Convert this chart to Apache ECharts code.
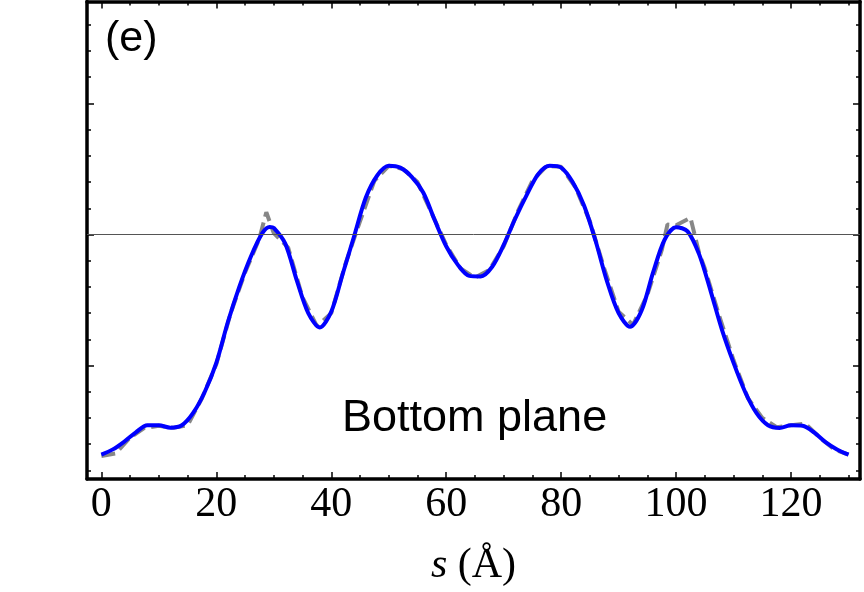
<!DOCTYPE html>
<html>
<head>
<meta charset="utf-8">
<script src="https://cdn.jsdelivr.net/npm/echarts@6/dist/echarts.min.js"></script>
<style>
  html, body { margin: 0; padding: 0; background: #fff; }
  #chart { width: 864px; height: 592px; }
</style>
</head>
<body>
<div id="chart"></div>
<script>
// fitted profile (blue, solid)
const fitS = [0, 2, 4, 6, 8, 10, 12, 14, 16, 18, 20, 22, 24, 26, 28, 29.3, 30, 32, 34, 36, 38, 40,
  42, 44, 46, 48, 50, 52, 54, 56, 58, 60, 62, 64, 66, 68, 70, 72, 74, 76, 78, 80, 82, 84, 86, 88,
  90, 92, 94, 96, 98, 100, 102, 104, 106, 108, 110, 112, 114, 116, 118, 120, 122, 124, 126, 128, 130];
const fitV = [0.160, 0.180, 0.210, 0.245, 0.272, 0.272, 0.263, 0.272, 0.320, 0.400, 0.510, 0.665,
  0.800, 0.915, 1.005, 1.029, 1.025, 0.965, 0.825, 0.700, 0.645, 0.705, 0.850, 0.995, 1.140, 1.225,
  1.262, 1.255, 1.220, 1.160, 1.055, 0.955, 0.885, 0.842, 0.840, 0.877, 0.960, 1.060, 1.150, 1.230,
  1.262, 1.255, 1.200, 1.110, 0.975, 0.820, 0.700, 0.648, 0.710, 0.855, 0.980, 1.028, 1.012, 0.925,
  0.785, 0.635, 0.510, 0.400, 0.318, 0.272, 0.262, 0.272, 0.270, 0.245, 0.208, 0.180, 0.160];

// raw profile (gray, dashed)
const rawS = [0, 2.5, 5, 7.5, 10, 12.5, 15, 17.5, 20, 22.5, 25, 27.5, 28.7, 30, 32.5, 35, 37.5, 40,
  42.5, 45, 47.5, 50, 52.5, 55, 57.5, 60, 62.5, 65, 67.5, 70, 72.5, 75, 77.5, 80, 82.5, 85, 87.5, 90,
  92.5, 95, 97.5, 98.5, 100, 102.5, 104, 105, 107.5, 110, 112.5, 115, 117.5, 120, 122.5, 125, 127.5, 130];
const rawV = [0.155, 0.165, 0.225, 0.262, 0.270, 0.262, 0.272, 0.375, 0.505, 0.700, 0.855, 0.985,
  1.085, 1.005, 0.950, 0.760, 0.650, 0.700, 0.890, 1.050, 1.205, 1.262, 1.250, 1.200, 1.080, 0.960,
  0.870, 0.835, 0.865, 0.955, 1.090, 1.205, 1.262, 1.258, 1.180, 1.050, 0.870, 0.705, 0.655, 0.770,
  0.940, 1.038, 1.035, 1.064, 0.930, 0.870, 0.690, 0.520, 0.375, 0.300, 0.265, 0.272, 0.278, 0.225,
  0.180, 0.160];

const refLevel = 1.0;

const xMajor = [0, 20, 40, 60, 80, 100, 120];
const xMinor = [0, 5, 10, 15, 20, 25, 30, 35, 40, 45, 50, 55, 60, 65, 70, 75, 80, 85, 90, 95, 100,
  105, 110, 115, 120, 125, 130];
const yMajor = [0.5, 1.0, 1.5];
const yMinor = [0.1, 0.2, 0.3, 0.4, 0.5, 0.6, 0.7, 0.8, 0.9, 1.0, 1.1, 1.2, 1.3, 1.4, 1.5, 1.6, 1.7, 1.8];

function pairs(xs, ys) {
  const arr = [];
  for (let i = 0; i < xs.length; i++) {
    arr.push([xs[i], ys[i]]);
  }
  return arr;
}

const X_MIN = -2.5;
const X_MAX = 132;
const Y_MIN = 0.067;
const Y_MAX = 1.889;

function xAxisOf(position, ticks, len, showLine, showLabel) {
  return {
    type: 'value',
    position: position,
    min: X_MIN,
    max: X_MAX,
    splitLine: { show: false },
    axisLine: { show: showLine, onZero: false, lineStyle: { color: '#000', width: 3.5 } },
    axisTick: {
      show: true,
      inside: true,
      length: len,
      customValues: ticks,
      lineStyle: { color: '#000', width: 1.5 }
    },
    axisLabel: {
      show: showLabel,
      customValues: ticks,
      margin: 5,
      color: '#000',
      fontFamily: 'Liberation Serif',
      fontSize: 42
    }
  };
}

function yAxisOf(position, ticks, len, showLine) {
  return {
    type: 'value',
    position: position,
    min: Y_MIN,
    max: Y_MAX,
    splitLine: { show: false },
    axisLine: { show: showLine, onZero: false, lineStyle: { color: '#000', width: 3.5 } },
    axisTick: {
      show: true,
      inside: true,
      length: len,
      customValues: ticks,
      lineStyle: { color: '#000', width: 1.5 }
    },
    axisLabel: { show: false }
  };
}

const bottomAxis = xAxisOf('bottom', xMajor, 7, true, true);
bottomAxis.name = '{i|s} (Å)';
bottomAxis.nameLocation = 'middle';
bottomAxis.nameGap = 66;
bottomAxis.nameTextStyle = {
  color: '#000',
  fontFamily: 'Liberation Serif',
  fontSize: 42,
  rich: {
    i: { fontFamily: 'Liberation Serif', fontStyle: 'italic', fontSize: 42, color: '#000' }
  }
};

const chartDom = echarts.init(document.getElementById('chart'));
const option = {
  backgroundColor: '#fff',
  animation: false,
  grid: { left: 87, right: 4, top: 1.5, bottom: 112.5 },
  xAxis: [
    bottomAxis,
    xAxisOf('bottom', xMinor, 4, false, false),
    xAxisOf('top', xMajor, 7, true, false),
    xAxisOf('top', xMinor, 4, false, false)
  ],
  yAxis: [
    yAxisOf('left', yMajor, 7, true),
    yAxisOf('left', yMinor, 4, false),
    yAxisOf('right', yMajor, 7, true),
    yAxisOf('right', yMinor, 4, false)
  ],
  graphic: [
    {
      type: 'text',
      left: 105,
      top: 18,
      style: { text: '(e)', fill: '#000', font: '43px "Liberation Sans"' }
    },
    {
      type: 'text',
      left: 342,
      top: 396,
      style: { text: 'Bottom plane', fill: '#000', font: '45px "Liberation Sans"' }
    }
  ],
  series: [
    {
      name: 'raw',
      type: 'line',
      data: pairs(rawS, rawV),
      symbol: 'none',
      z: 2,
      lineStyle: { color: '#878787', width: 4, type: [14, 6] },
      markLine: {
        silent: true,
        symbol: 'none',
        label: { show: false },
        lineStyle: { color: '#555', width: 1, type: 'solid' },
        data: [{ yAxis: refLevel }]
      }
    },
    {
      name: 'fit',
      type: 'line',
      data: pairs(fitS, fitV),
      symbol: 'none',
      smooth: 0.3,
      z: 3,
      lineStyle: { color: '#0000ff', width: 4 }
    }
  ]
};
chartDom.setOption(option);
</script>
</body>
</html>
